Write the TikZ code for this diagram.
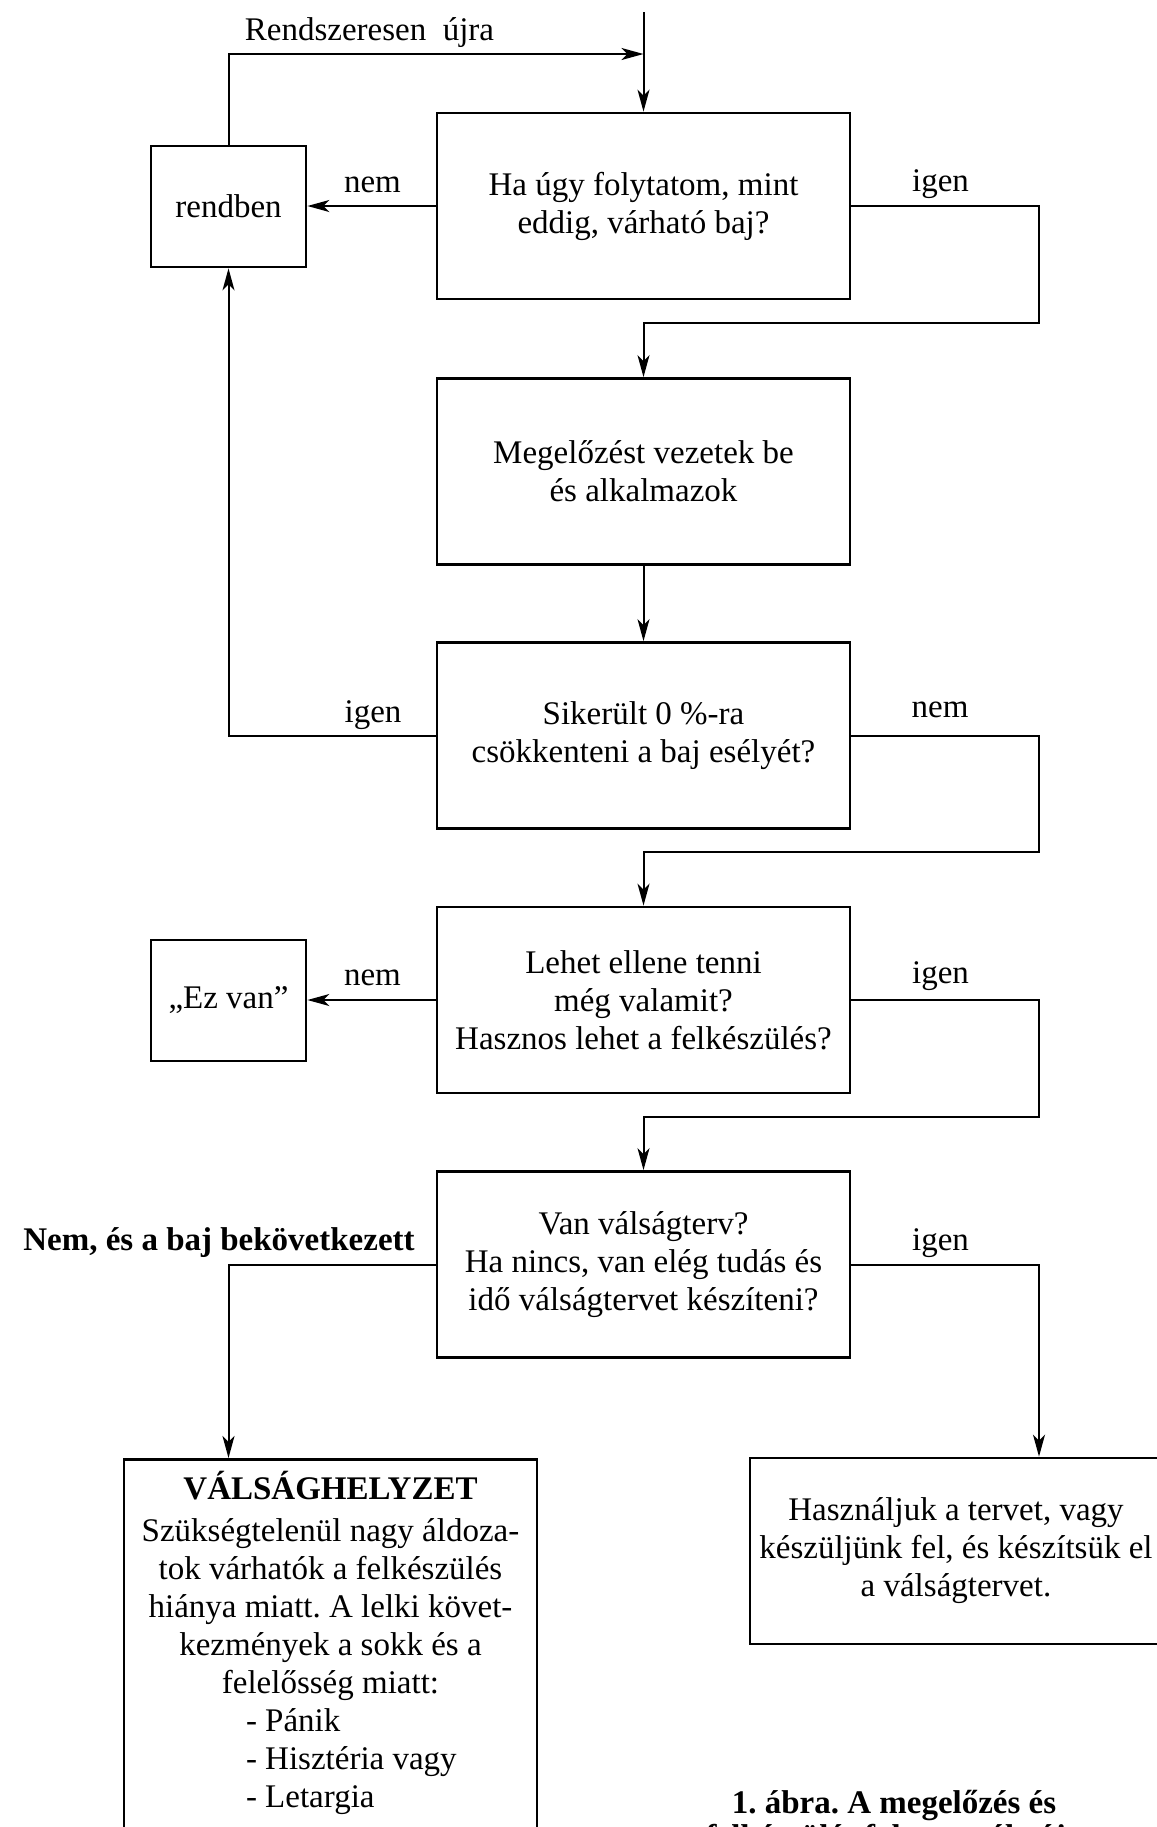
\documentclass[tikz,border=0pt]{standalone}
\usepackage{fontspec}
\setmainfont{Liberation Serif}
\usetikzlibrary{arrows.meta}
\frenchspacing

\begin{document}
\begin{tikzpicture}[x=0.5pt, y=-0.5pt,
  font=\fontsize{16.5}{19}\selectfont,
  box/.style={draw, line width=1.4pt, align=center, inner sep=0pt},
  qbox/.style={box, minimum width=206.5pt, minimum height=93pt},
  sbox/.style={box, minimum width=77.5pt, minimum height=60.5pt},
  flow/.style={-{Stealth[length=11pt,width=6pt,inset=3pt]}, line width=1pt},
  lbl/.style={anchor=base, inner sep=0pt}]
\useasboundingbox (0,0) rectangle (1157,1827);
\clip (0,0) rectangle (1157,1827);

% Question boxes down the middle
\node[qbox] (q1) at (643.5,206) {Ha úgy folytatom, mint\\eddig, várható baj?};
\node[qbox] (prev) at (643.5,471.5) {Megelőzést vezetek be\\és alkalmazok};
\node[qbox] (q2) at (643.5,735.5) {Sikerült 0 \%-ra\\csökkenteni a baj esélyét?};
\node[qbox] (q3) at (643.5,1000) {Lehet ellene tenni\\még valamit?\\Hasznos lehet a felkészülés?};
\node[qbox] (q4) at (643.5,1264.5) {Van válságterv?\\Ha nincs, van elég tudás és\\idő válságtervet készíteni?};

% Side boxes
\node[sbox] (ok) at (228.5,206.5) {rendben};
\node[sbox] (ezvan) at (228.5,1000.5) {„Ez van”};
\node[box, minimum width=206pt, minimum height=93pt] (plan) at (956,1551)
  {Használjuk a tervet, vagy\\készüljünk fel, és készítsük el\\a válságtervet.};
\node[box, anchor=north, minimum width=206.5pt, inner ysep=6pt, text depth=120pt] (crisis) at (330.5,1458)
  {\textbf{VÁLSÁGHELYZET}\\[2pt]
   Szükségtelenül nagy áldoza-\\tok várhatók a felkészülés\\hiánya miatt. A lelki követ-\\
   kezmények a sokk és a\\felelősség miatt:\\
   \makebox[84.5pt][l]{- Pánik}\\\makebox[84.5pt][l]{- Hisztéria vagy}\\\makebox[84.5pt][l]{- Letargia}};

% Bend points
\coordinate (top) at (643.5,12);
\coordinate (back) at (643.5,54);
\coordinate (r1) at (1039,323);
\coordinate (r2) at (1039,852);
\coordinate (r3) at (1039,1117);

% Connectors
\draw[flow] (top) -- (q1.north);
\draw[flow] (ok.north) |- (back);
\draw[flow] (q1.west) -- (q1.west -| ok.east);
\draw[flow] (q1.east) -| (r1) -| (prev.north);
\draw[flow] (prev.south) -- (q2.north);
\draw[flow] (q2.west) -| (ok.south);
\draw[flow] (q2.east) -| (r2) -| (q3.north);
\draw[flow] (q3.west) -- (q3.west -| ezvan.east);
\draw[flow] (q3.east) -| (r3) -| (q4.north);
\draw[flow] (q4.west) -| (ok.south |- crisis.north);
\draw[flow] (q4.east) -| (r3 |- plan.north);

% Answer labels
\node[lbl] (again) at (369.5,40) {Rendszeresen\enspace újra};
\node[lbl] (n1) at (372.5,192) {nem};
\node[lbl] (i1) at (940.5,191) {igen};
\node[lbl] (i2) at (373,722) {igen};
\node[lbl] (n2) at (940,717) {nem};
\node[lbl] (n3) at (372.5,985) {nem};
\node[lbl] (i3) at (940.5,983) {igen};
\node[lbl] (n4) at (219,1250) {\textbf{Nem, és a baj bekövetkezett}};
\node[lbl] (i4) at (940.5,1250) {igen};

% Caption (base = last line)
\node[lbl, align=center, font=\fontsize{16.5}{17}\selectfont\bfseries] (cap) at (894,1847)
  {1. ábra. A megelőzés és\\felkészülés folyamatábrája};
\end{tikzpicture}
\end{document}
